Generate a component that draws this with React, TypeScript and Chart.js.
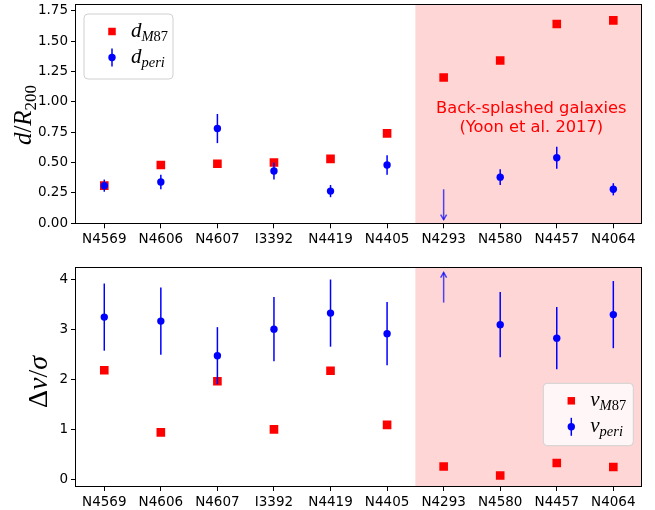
import React, { useEffect, useRef } from "react";
import { Chart, registerables } from "chart.js";
Chart.register(...registerables);

// ---------- data ----------
const galaxies = ["N4569", "N4606", "N4607", "I3392", "N4419", "N4405", "N4293", "N4580", "N4457", "N4064"];
const firstBacksplash = 6; // N4293 onward are back-splashed

const dM87 = [0.31, 0.48, 0.49, 0.5, 0.53, 0.74, 1.2, 1.34, 1.64, 1.67];
const dPeri = [0.31, 0.34, 0.78, 0.43, 0.265, 0.48, null, 0.38, 0.54, 0.28];
const dPeriErr = [0.05, 0.06, 0.12, 0.07, 0.05, 0.08, null, 0.065, 0.09, 0.05];
const dLimitFrom = [null, null, null, null, null, null, 0.28, null, null, null];
const dLimitTo = [null, null, null, null, null, null, 0.03, null, null, null];
const dTicks = [0, 0.25, 0.5, 0.75, 1.0, 1.25, 1.5, 1.75];

const vM87 = [2.19, 0.95, 1.97, 1.01, 2.18, 1.1, 0.27, 0.09, 0.34, 0.26];
const vPeri = [3.25, 3.17, 2.48, 3.01, 3.33, 2.92, null, 3.1, 2.83, 3.3];
const vPeriErr = [0.67, 0.67, 0.57, 0.64, 0.67, 0.63, null, 0.65, 0.62, 0.67];
const vLimitFrom = [null, null, null, null, null, null, 3.54, null, null, null];
const vLimitTo = [null, null, null, null, null, null, 4.14, null, null, null];
const vTicks = [0, 1, 2, 3, 4];

const noteLines = ["Back-splashed galaxies", "(Yoon et al. 2017)"];

// ---------- styles ----------
const RED = "#ff0000";
const BLUE = "#0000ff";
const LIMIT = "rgba(0,0,255,0.7)";
const SHADE = "#ffd6d6";
const SANS = '"DejaVu Sans"';
const SERIF = '"Liberation Serif"';

type Seg = { t: string; f: string; dy?: number };

interface Panel {
  height: number;
  padTop: number;
  axisH: number;
  yMin: number;
  yMax: number;
  yTicks: number[];
  decimals: number;
  red: number[];
  blue: (number | null)[];
  blueErr: (number | null)[];
  limFrom: (number | null)[];
  limTo: (number | null)[];
  sym: string;
  legend: { x: number; y: number; w: number; h: number; bg: string };
  title: Seg[];
  titleX: number;
  titleY: number;
  note: boolean;
}

function drawSegs(ctx: CanvasRenderingContext2D, segs: Seg[], x: number, y: number, center: boolean) {
  let total = 0;
  for (const s of segs) {
    ctx.font = s.f;
    total += ctx.measureText(s.t).width;
  }
  let cx = center ? x - total / 2 : x;
  for (const s of segs) {
    ctx.font = s.f;
    ctx.fillText(s.t, cx, y + (s.dy || 0));
    cx += ctx.measureText(s.t).width;
  }
}

function makePlugin(p: Panel) {
  return {
    id: "custom" + p.sym,
    beforeDatasetsDraw(chart: any) {
      const { ctx, chartArea } = chart;
      const x = chart.scales.x;
      const x0 = x.getPixelForValue(firstBacksplash - 0.5);
      const x1 = x.getPixelForValue(galaxies.length - 0.5);
      ctx.save();
      ctx.fillStyle = SHADE;
      ctx.fillRect(x0, chartArea.top, x1 - x0, chartArea.bottom - chartArea.top);
      if (p.note) {
        ctx.fillStyle = RED;
        ctx.font = `16.3px ${SANS}`;
        ctx.textAlign = "center";
        ctx.textBaseline = "middle";
        const cx = x.getPixelForValue(7.55);
        ctx.fillText(noteLines[0], cx, chartArea.top + 104.5);
        ctx.fillText(noteLines[1], cx, chartArea.top + 123.5);
      }
      ctx.restore();
    },
    beforeDatasetDraw(chart: any, args: any) {
      if (args.index !== 0) return;
      const { ctx } = chart;
      const x = chart.scales.x;
      const y = chart.scales.y;
      ctx.save();
      ctx.strokeStyle = BLUE;
      ctx.lineWidth = 1.5;
      p.blue.forEach((v, i) => {
        const e = p.blueErr[i];
        if (v == null || e == null) return;
        const px = x.getPixelForValue(i);
        ctx.beginPath();
        ctx.moveTo(px, y.getPixelForValue(v - e));
        ctx.lineTo(px, y.getPixelForValue(v + e));
        ctx.stroke();
      });
      ctx.strokeStyle = LIMIT;
      p.limFrom.forEach((a, i) => {
        const b = p.limTo[i];
        if (a == null || b == null) return;
        const px = x.getPixelForValue(i);
        const ya = y.getPixelForValue(a);
        const yb = y.getPixelForValue(b);
        const dir = yb > ya ? 1 : -1;
        ctx.beginPath();
        ctx.moveTo(px, ya);
        ctx.lineTo(px, yb);
        ctx.stroke();
        ctx.beginPath();
        ctx.moveTo(px - 3, yb - dir * 5);
        ctx.lineTo(px, yb);
        ctx.lineTo(px + 3, yb - dir * 5);
        ctx.stroke();
      });
      ctx.restore();
    },
    afterDatasetsDraw(chart: any) {
      const { ctx, chartArea } = chart;
      ctx.save();
      // frame
      ctx.strokeStyle = "#000";
      ctx.lineWidth = 1;
      ctx.strokeRect(
        Math.round(chartArea.left) - 0.5,
        Math.round(chartArea.top) + 0.5,
        Math.round(chartArea.right - chartArea.left),
        Math.round(chartArea.bottom - chartArea.top)
      );
      // legend
      const L = p.legend;
      ctx.beginPath();
      const r = 4;
      ctx.moveTo(L.x + r, L.y);
      ctx.arcTo(L.x + L.w, L.y, L.x + L.w, L.y + L.h, r);
      ctx.arcTo(L.x + L.w, L.y + L.h, L.x, L.y + L.h, r);
      ctx.arcTo(L.x, L.y + L.h, L.x, L.y, r);
      ctx.arcTo(L.x, L.y, L.x + L.w, L.y, r);
      ctx.closePath();
      ctx.fillStyle = L.bg;
      ctx.fill();
      ctx.strokeStyle = "#d0d0d0";
      ctx.lineWidth = 1;
      ctx.stroke();
      const mx = L.x + 28;
      const tx = L.x + 47;
      const r1 = L.y + 17.5;
      const r2 = L.y + 43.5;
      ctx.fillStyle = RED;
      ctx.fillRect(mx - 3.75, r1 - 3.75, 7.5, 7.5);
      ctx.strokeStyle = BLUE;
      ctx.lineWidth = 1.5;
      ctx.beginPath();
      ctx.moveTo(mx, r2 - 9);
      ctx.lineTo(mx, r2 + 9);
      ctx.stroke();
      ctx.fillStyle = BLUE;
      ctx.beginPath();
      ctx.arc(mx, r2, 3.7, 0, Math.PI * 2);
      ctx.fill();
      ctx.fillStyle = "#000";
      ctx.textAlign = "left";
      ctx.textBaseline = "alphabetic";
      drawSegs(ctx, [
        { t: p.sym, f: `italic 21px ${SERIF}` },
        { t: "M", f: `italic 14.5px ${SERIF}`, dy: 4 },
        { t: "87", f: `14.5px ${SERIF}`, dy: 4 },
      ], tx, r1 + 5, false);
      drawSegs(ctx, [
        { t: p.sym, f: `italic 21px ${SERIF}` },
        { t: "peri", f: `italic 14.5px ${SERIF}`, dy: 4 },
      ], tx, r2 + 5, false);
      // y title (rotated)
      ctx.translate(p.titleX, p.titleY);
      ctx.rotate(-Math.PI / 2);
      drawSegs(ctx, p.title, 0, 0, true);
      ctx.restore();
    },
  };
}

function buildChart(canvas: HTMLCanvasElement, p: Panel) {
  const tickFont = { family: "DejaVu Sans", size: 13.5 };
  return new Chart(canvas, {
    type: "line",
    data: {
      labels: galaxies,
      datasets: [
        {
          data: p.blue,
          showLine: false,
          pointStyle: "circle",
          pointRadius: 3.7,
          pointBackgroundColor: BLUE,
          pointBorderWidth: 0,
          borderColor: BLUE,
        },
        {
          data: p.red,
          showLine: false,
          pointStyle: "rect",
          pointRadius: 6.1,
          pointBackgroundColor: RED,
          pointBorderWidth: 0,
          borderColor: RED,
        },
      ],
    } as any,
    options: {
      responsive: false,
      animation: false,
      devicePixelRatio: 1,
      events: [],
      layout: { autoPadding: false, padding: { left: 0, right: 13.4, top: p.padTop, bottom: 0 } },
      plugins: { legend: { display: false }, tooltip: { enabled: false } },
      scales: {
        x: {
          type: "category",
          offset: true,
          grid: { display: true, drawOnChartArea: false, drawTicks: true, tickLength: 5, color: "#000", offset: false },
          border: { display: false },
          ticks: { font: tickFont, color: "#000", padding: 3, maxRotation: 0, autoSkip: false },
          afterFit: (s: any) => {
            s.height = p.axisH;
            s.paddingLeft = 0;
            s.paddingRight = 0;
          },
        },
        y: {
          type: "linear",
          min: p.yMin,
          max: p.yMax,
          grid: { display: true, drawOnChartArea: false, drawTicks: true, tickLength: 5, color: "#000" },
          border: { display: false },
          ticks: {
            font: tickFont,
            color: "#000",
            padding: 3,
            callback: (v: any) => Number(v).toFixed(p.decimals),
          },
          afterBuildTicks: (s: any) => {
            s.ticks = p.yTicks.map((v) => ({ value: v }));
          },
          afterFit: (s: any) => {
            s.width = 76;
            s.paddingTop = 0;
            s.paddingBottom = 0;
          },
        },
      },
    } as any,
    plugins: [makePlugin(p) as any],
  });
}

const topPanel: Panel = {
  height: 250,
  padTop: 4,
  axisH: 26.7,
  yMin: 0,
  yMax: 1.805,
  yTicks: dTicks,
  decimals: 2,
  red: dM87,
  blue: dPeri,
  blueErr: dPeriErr,
  limFrom: dLimitFrom,
  limTo: dLimitTo,
  sym: "d",
  legend: { x: 84, y: 14, w: 89, h: 65, bg: "rgba(255,255,255,0.85)" },
  title: [
    { t: "d", f: `italic 25px ${SERIF}` },
    { t: "/", f: `25px ${SERIF}` },
    { t: "R", f: `italic 25px ${SERIF}` },
    { t: "200", f: `17px ${SERIF}`, dy: 5 },
  ],
  titleX: 31,
  titleY: 115,
  note: true,
};

const bottomPanel: Panel = {
  height: 260,
  padTop: 17,
  axisH: 24,
  yMin: -0.12,
  yMax: 4.25,
  yTicks: vTicks,
  decimals: 0,
  red: vM87,
  blue: vPeri,
  blueErr: vPeriErr,
  limFrom: vLimitFrom,
  limTo: vLimitTo,
  sym: "v",
  legend: { x: 543.3, y: 133.3, w: 90, h: 62.4, bg: "rgba(255,255,255,0.8)" },
  title: [
    { t: "Δ", f: `28px ${SERIF}` },
    { t: "v", f: `italic 28px ${SERIF}` },
    { t: "/", f: `28px ${SERIF}` },
    { t: "σ", f: `italic 28px ${SERIF}` },
  ],
  titleX: 47,
  titleY: 132,
  note: false,
};

function PanelChart({ panel }: { panel: Panel }) {
  const ref = useRef<HTMLCanvasElement | null>(null);
  useEffect(() => {
    if (!ref.current) return;
    const c = buildChart(ref.current, panel);
    return () => c.destroy();
  }, [panel]);
  return (
    <canvas
      ref={ref}
      width={655}
      height={panel.height}
      style={{ display: "block", width: 655, height: panel.height }}
    />
  );
}

export default function App() {
  return (
    <div style={{ position: "absolute", left: 0, top: 0, width: 655, height: 510, background: "#fff" }}>
      <PanelChart panel={topPanel} />
      <PanelChart panel={bottomPanel} />
    </div>
  );
}
